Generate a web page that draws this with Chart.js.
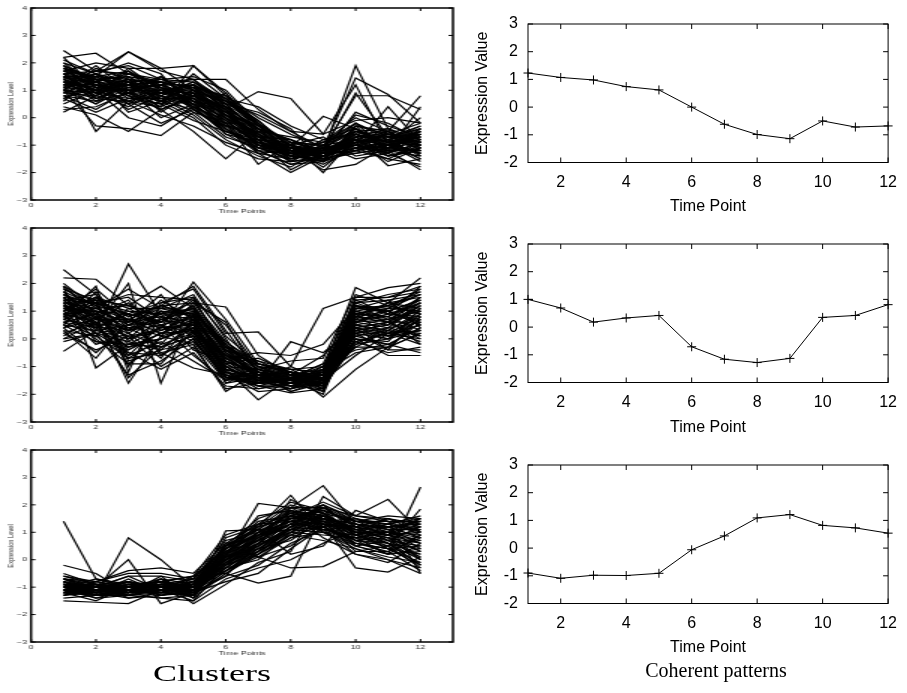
<!DOCTYPE html>
<html>
<head>
<meta charset="utf-8">
<script src="https://cdn.jsdelivr.net/npm/chart.js@4"></script>
<style>
  body { margin: 0; background: #fff; }
  #page { position: relative; width: 907px; height: 693px; overflow: hidden; background: #fff; }
  .stretch { position: absolute; left: 0; transform-origin: 0 0; transform: scaleX(1.5); }
  .pat { position: absolute; left: 450px; }
  .caption { position: absolute; width: 240px; text-align: center; white-space: nowrap;
             font-family: "Liberation Serif", serif; color: #000; transform-origin: 50% 0; }
</style>
</head>
<body>
<div id="page">
  <div class="stretch" style="top:0px"><canvas id="cl1" width="306" height="225"></canvas></div>
  <div class="stretch" style="top:220px"><canvas id="cl2" width="306" height="227"></canvas></div>
  <div class="stretch" style="top:442px"><canvas id="cl3" width="306" height="225"></canvas></div>
  <canvas id="pt1" class="pat" style="top:0px" width="457" height="225"></canvas>
  <canvas id="pt2" class="pat" style="top:220px" width="457" height="226"></canvas>
  <canvas id="pt3" class="pat" style="top:441px" width="457" height="225"></canvas>
  <div class="caption" style="left:92px; top:661px; font-size:24px; line-height:24px; transform:scaleX(1.5)">Clusters</div>
  <div class="caption" style="left:596px; top:660px; font-size:20px; line-height:20px">Coherent patterns</div>
</div>

<script>
var timePoints = [1, 2, 3, 4, 5, 6, 7, 8, 9, 10, 11, 12];
var clusterXTicks = [0, 2, 4, 6, 8, 10, 12];
var patternXTicks = [2, 4, 6, 8, 10, 12];

// top cluster: high early, dropping after t5
var cluster1 = [
  [2.45,1.7,2.4,1.8,1.9,0.9,-0.3,-1.0,-1.3,-0.6,-0.9,-0.5],
  [2.2,2.35,1.6,1.3,1.1,0.5,-0.6,-1.5,-1.2,1.9,-0.4,-1.0],
  [1.8,1.5,2.4,1.7,1.4,1.4,0.3,-0.5,-1.1,1.45,0.85,-0.2],
  [1.2,0.9,1.8,1.8,1.0,0.3,0.95,0.7,-0.6,1.2,-1.0,-1.3],
  [0.2,0.8,0.5,-0.2,0.3,-0.5,-1.0,-1.6,-1.5,-0.8,-1.2,-1.9],
  [1.5,-0.5,0.6,0.1,-0.3,-0.9,-1.3,-2.0,-1.4,-1.1,-1.5,-1.7],
  [0.4,0.1,-0.5,0.3,-0.5,-1.5,-0.5,-1.2,-1.9,-1.7,-1.0,-1.2],
  [1.0,-0.3,-0.4,-0.65,0.2,-0.2,-1.7,-0.9,-2.0,-0.7,-1.75,-1.5],
  [2.0,1.2,1.0,0.4,1.9,0.8,0.0,-0.6,-1.1,0.8,0.8,0.3],
  [1.6,1.7,1.9,1.4,1.5,1.0,-0.2,-1.3,-0.9,0.0,-0.5,0.8],
  [1.3,1.0,1.2,0.9,0.5,0.0,-0.8,-1.1,0.05,-0.4,-1.1,-0.6],
  [0.9,1.4,0.7,1.1,0.8,0.4,-0.4,-0.8,-1.3,-0.9,-0.6,-0.8],
  [1.1,0.5,1.5,0.6,1.2,-0.3,-1.1,-1.4,-1.0,-1.2,-0.8,-1.1],
  [1.7,1.3,0.8,1.5,0.6,0.2,-0.7,-1.2,-1.6,-0.3,-1.3,-0.4],
  [0.7,1.1,0.3,0.8,1.3,0.6,-0.3,-0.9,-1.2,-1.0,0.4,-0.9],
  [1.4,0.6,1.3,0.2,0.9,-0.6,-1.2,-1.7,-1.4,-0.6,-0.9,0.0],
  [2.1,1.6,1.1,1.2,0.4,-0.1,-0.9,-1.0,-0.7,-1.4,-1.2,-1.4],
  [0.6,1.5,1.7,0.7,0.1,-0.8,-1.4,-1.8,-1.1,-0.5,-0.7,-0.3],
  [1.9,0.9,0.4,1.0,0.7,0.5,0.2,-0.4,-1.6,-1.2,-1.5,-1.0],
  [1.0,1.8,1.4,0.5,1.6,0.7,-0.1,-1.1,-1.3,0.2,-0.3,-0.7],
  [1.5,1.2,0.9,1.3,1.1,0.1,-0.6,-1.6,-1.0,-0.8,-1.0,-1.6],
  [0.8,0.3,1.0,0.0,0.5,-0.4,-1.0,-1.3,-1.7,-1.1,-0.5,-1.2],
  [1.2,1.6,2.0,1.6,0.3,0.9,-0.5,-0.7,-0.9,-0.2,-1.2,0.4],
  [1.6,0.7,0.6,0.4,1.0,0.0,-1.3,-1.5,-1.2,-0.9,-0.6,-0.9],
  [0.5,1.0,1.3,1.1,0.6,-0.2,-0.2,-1.0,-1.5,-0.6,-1.4,-1.1],
  [1.8,1.4,0.2,0.6,0.9,0.3,-0.8,-1.9,-1.3,-1.0,-0.8,-0.5],
  [1.3,0.8,1.6,1.4,1.3,0.7,0.4,-0.3,-0.8,-0.4,-0.9,-1.3],
  [1.1,1.9,1.0,0.8,0.2,-0.7,-1.1,-1.2,-1.5,-1.3,-1.1,-0.6],
  [0.9,1.3,0.5,1.2,1.4,0.4,-0.4,-1.4,-1.1,0.1,-0.2,-0.8],
  [2.2,1.1,1.4,0.3,0.8,0.1,-0.7,-0.8,-1.4,-0.7,-0.4,-1.4],
  [0.3,0.4,0.9,0.6,0.0,-1.0,-1.5,-1.6,-1.0,-1.5,-1.3,-1.8],
  [1.4,1.0,0.0,-0.3,0.4,-0.6,-0.9,-1.1,-1.8,-0.9,-1.6,-1.1],
  [1.7,2.0,1.8,1.0,1.2,0.6,0.1,-0.5,-0.6,-0.1,0.0,-0.2],
  [1.0,0.7,1.1,1.5,0.7,-0.1,-1.0,-1.3,-1.2,0.9,-0.7,-1.0],
  [1.5,1.5,0.9,0.9,1.0,0.2,-0.6,-1.0,-1.5,-1.2,-0.9,-0.7],
  [0.7,0.2,0.7,0.5,-0.1,-0.5,-0.8,-1.5,-1.3,-0.8,-1.0,-1.5],
  [1.9,1.4,1.5,1.3,0.5,-0.4,-1.2,-1.7,-1.6,-1.0,-1.4,-1.2],
  [1.2,1.2,1.2,0.7,1.1,0.8,-0.3,-0.9,-1.0,-0.5,-0.8,-0.4],
  [1.6,0.9,1.7,1.1,0.3,-0.3,-0.5,-1.2,-1.4,-1.1,-1.1,-0.9],
  [1.0,1.6,0.8,0.3,0.8,0.3,-1.0,-1.4,-0.8,-0.6,-0.5,-1.1],
  [1.3,1.1,1.0,1.0,0.9,0.2,-0.7,-1.2,-1.3,-0.9,-0.8,-0.9],
  [0.9,0.8,1.3,0.6,0.6,0.0,-0.9,-1.3,-1.4,-0.7,-1.1,-0.6],
  [1.7,1.5,1.4,1.2,0.8,0.4,-0.4,-1.0,-1.2,-1.0,-0.6,-1.2],
  [1.4,1.0,0.6,1.0,1.2,0.5,-0.6,-1.1,-1.5,-0.5,-0.9,-0.8],
  [1.1,1.3,1.1,0.8,0.4,-0.2,-0.9,-1.4,-1.1,-1.1,-1.2,-1.0],
  [2.0,1.6,1.3,1.4,1.0,0.6,-0.2,-0.9,-1.0,-0.2,-0.7,-0.4],
  [0.8,0.6,0.9,0.3,0.7,-0.4,-1.1,-1.5,-1.3,-1.2,-1.0,-1.3],
  [1.5,1.3,1.6,1.2,1.2,0.3,-0.5,-1.2,-1.2,-0.6,-1.0,-0.7],
  [1.2,1.5,1.0,0.9,0.7,0.1,-0.8,-1.0,-1.4,-0.8,-0.5,-1.1],
  [1.8,1.1,1.2,1.3,0.9,0.7,-0.3,-1.3,-1.1,-0.4,-1.2,-0.5],
  [1.0,0.9,0.7,0.7,0.8,-0.1,-1.0,-1.1,-1.5,-0.9,-0.8,-1.4],
  [1.6,1.4,1.5,0.9,1.3,0.5,-0.6,-1.4,-1.0,-0.3,-0.6,-0.2],
  [1.3,0.7,1.2,1.1,0.5,-0.3,-0.7,-1.3,-1.3,-1.0,-1.3,-0.9],
  [0.7,1.2,0.8,0.5,1.0,0.2,-0.4,-0.8,-1.2,-0.6,-0.9,-1.0],
  [1.9,1.3,1.7,1.0,0.6,0.4,-0.9,-1.2,-1.4,-0.7,-0.7,-0.6],
  [1.1,1.0,1.4,1.3,1.1,0.0,-0.6,-1.5,-1.2,-1.3,-1.1,-1.2],
  [1.4,1.6,0.9,0.6,0.9,0.6,-0.1,-1.1,-0.9,-0.5,-0.4,-0.8],
  [1.5,0.9,1.1,1.2,0.6,-0.2,-1.2,-1.3,-1.6,-0.8,-1.4,-1.1],
  [1.2,1.4,1.3,0.8,1.2,0.3,-0.8,-0.9,-1.2,-0.2,-0.8,-0.3],
  [0.9,1.1,0.6,1.0,0.4,-0.5,-0.9,-1.6,-1.4,-1.1,-0.9,-1.5],
  [1.7,1.2,1.0,1.4,1.0,0.5,-0.5,-1.1,-1.3,-0.6,-1.1,-0.7],
  [1.3,1.7,1.6,1.1,0.8,0.1,-0.3,-1.2,-1.1,-0.9,-0.7,-1.0],
  [1.0,0.5,1.1,0.9,1.1,0.4,-0.7,-1.4,-1.5,-0.4,-1.0,-0.5],
  [1.6,1.2,0.8,0.7,0.7,-0.1,-1.0,-1.0,-1.3,-1.0,-1.2,-1.2],
  [1.1,1.4,1.2,1.3,1.4,0.6,-0.4,-1.3,-1.2,-0.7,-0.6,-0.9],
  [1.4,0.8,1.4,0.8,0.5,0.2,-0.8,-1.5,-1.0,-1.2,-1.0,-0.8],
  [1.8,1.3,1.2,1.0,0.9,0.0,-0.6,-1.2,-1.4,-0.5,-0.9,-1.3],
  [0.8,1.0,1.0,1.2,0.8,0.3,-1.1,-1.1,-1.2,-0.8,-1.3,-0.6],
  [1.2,1.2,0.5,0.9,1.2,0.7,-0.2,-1.4,-1.6,-0.3,-0.5,-1.0],
  [1.5,1.0,1.3,0.6,0.3,-0.4,-1.3,-1.2,-1.1,-1.0,-1.1,-0.4]
];

// middle cluster: dip around t6-t9, recovery at t10
var cluster2 = [
  [2.5,1.6,0.5,1.2,0.8,-0.6,-1.2,-1.5,-1.3,0.9,1.1,1.6],
  [-0.45,0.3,2.7,0.9,1.3,1.15,-0.6,-1.3,-1.7,0.5,0.2,0.8],
  [2.2,2.15,1.2,1.9,1.1,-0.3,-1.5,-1.8,-1.1,1.85,1.3,2.2],
  [1.9,-1.05,-0.2,0.4,2.05,0.7,-0.9,-1.2,-2.1,-1.1,-0.3,0.2],
  [0.1,0.8,-1.6,0.1,-0.2,-1.9,-1.2,-1.6,-1.5,0.0,-0.6,-0.6],
  [1.2,0.5,2.0,-1.6,0.9,-1.1,-2.2,-1.4,-1.2,1.2,0.9,1.3],
  [0.8,1.9,-1.2,1.3,1.8,0.2,0.25,-1.0,1.1,1.5,1.85,2.0],
  [1.6,1.0,0.9,-0.5,-1.05,-1.3,-1.6,-0.1,-0.5,0.4,-0.4,-0.4],
  [1.4,1.3,1.5,0.7,0.5,-0.8,-1.3,-1.7,-1.6,1.0,0.6,1.5],
  [0.5,1.7,0.3,1.0,0.0,-1.4,-1.7,-1.95,-1.8,0.6,1.0,0.5],
  [1.0,0.0,-0.9,-0.9,0.3,-1.6,-1.4,-1.6,-1.0,-0.3,0.3,1.0],
  [0.3,-0.7,0.7,0.2,0.6,-0.6,-0.8,-1.3,-1.9,0.8,0.7,-0.2],
  [1.8,1.2,1.6,1.5,1.4,0.5,-1.0,-1.5,-1.4,1.3,1.6,1.8],
  [0.6,0.9,-0.5,-1.1,-0.5,-1.7,-1.8,-1.6,-1.3,0.2,0.0,0.3],
  [1.5,0.4,1.0,0.6,1.2,-0.2,-1.1,-0.8,-0.7,1.6,1.2,0.9],
  [0.0,0.6,-1.4,-0.3,0.4,-1.2,-1.5,-1.8,-1.2,-0.5,-0.3,0.6],
  [1.1,1.5,0.6,1.6,0.2,-0.9,-0.7,-1.2,-1.6,0.3,0.5,1.2],
  [0.9,-0.2,0.2,-0.7,0.7,-0.5,-1.3,-1.9,-1.5,0.1,-0.2,-0.5],
  [2.0,1.1,1.8,1.1,1.6,0.0,-1.6,-1.4,-0.9,1.4,1.5,1.7],
  [0.4,1.0,-0.6,0.5,-0.6,-1.5,-1.0,-1.1,-1.7,-0.2,0.4,0.1],
  [1.3,0.2,0.4,-0.2,1.0,-0.4,-1.4,-1.5,-2.0,0.7,0.8,1.4],
  [0.7,1.3,-1.0,0.8,0.1,-1.0,-1.7,-1.7,-1.4,0.9,0.1,0.7],
  [1.7,0.7,1.3,0.3,0.8,-0.7,-0.5,-0.6,-0.2,1.1,1.4,0.4],
  [0.2,-0.4,0.1,-1.0,-0.3,-1.8,-1.6,-1.5,-1.1,-0.1,-0.5,-0.3],
  [1.0,1.8,0.8,1.2,1.9,0.3,-1.2,-1.4,-1.8,1.3,0.9,1.9],
  [1.5,0.6,-0.3,0.0,0.5,-1.1,-1.4,-1.2,-1.3,0.4,0.6,0.0],
  [0.6,0.1,1.1,0.5,-0.1,-1.3,-1.9,-1.8,-1.6,0.0,-0.1,1.1],
  [1.2,0.8,0.0,1.0,0.9,-0.1,-0.9,-1.3,-0.6,0.6,1.1,1.0],
  [0.9,1.4,-0.8,-0.4,0.6,-1.6,-1.1,-1.6,-1.9,0.5,0.3,-0.1],
  [1.9,0.9,1.4,0.1,1.3,0.6,-1.3,-1.6,-1.2,1.2,0.7,1.3],
  [0.4,-0.5,0.5,0.9,-0.4,-0.8,-1.5,-1.0,-1.5,-0.6,0.2,0.5],
  [1.4,1.6,-0.1,0.7,1.1,-1.4,-1.2,-1.7,-1.4,0.8,1.3,1.5],
  [0.7,0.4,0.9,-0.6,0.2,-0.6,-1.6,-1.4,-1.7,0.2,-0.4,0.8],
  [1.6,1.2,0.3,1.4,0.7,-0.3,-0.8,-1.1,-1.0,1.0,0.8,0.3],
  [-0.1,0.2,-1.3,-0.8,0.0,-1.4,-1.3,-1.9,-1.6,0.3,0.0,0.9],
  [1.1,0.7,0.7,0.4,0.4,-1.0,-1.1,-1.5,-1.4,0.7,0.5,1.1],
  [0.8,1.1,1.2,0.6,1.5,-0.5,-1.4,-1.2,-1.8,1.1,1.0,0.6],
  [1.3,-0.1,-0.4,0.2,0.3,-1.2,-1.8,-1.6,-1.2,0.4,0.2,-0.2],
  [0.5,1.5,0.6,1.1,0.8,-0.2,-1.0,-1.3,-1.5,0.9,1.2,1.7],
  [1.7,0.5,-0.6,-0.1,-0.8,-1.5,-1.2,-1.4,-0.9,-0.4,-0.2,0.4],
  [1.2,0.9,0.4,0.6,0.7,-0.8,-1.3,-1.4,-1.5,0.6,0.7,1.0],
  [0.6,0.4,-0.3,0.2,0.3,-1.1,-1.5,-1.6,-1.3,0.2,0.4,0.6],
  [1.5,1.3,1.0,0.9,1.1,-0.3,-1.1,-1.3,-1.2,1.1,1.0,1.4],
  [0.9,0.6,0.2,-0.3,0.1,-1.3,-1.6,-1.5,-1.6,0.4,0.1,0.3],
  [1.8,1.4,0.8,1.2,1.3,-0.1,-1.0,-1.2,-1.4,1.3,1.4,1.6],
  [0.3,0.1,-0.7,-0.5,-0.2,-1.5,-1.4,-1.7,-1.5,-0.1,0.2,0.0],
  [1.1,1.0,0.6,0.8,0.6,-0.6,-1.2,-1.5,-1.1,0.8,0.6,1.2],
  [1.4,0.5,0.1,0.3,0.9,-0.9,-1.5,-1.3,-1.7,0.6,0.9,0.7],
  [0.7,1.2,0.9,0.5,0.2,-0.7,-1.3,-1.6,-1.4,0.3,0.5,1.3],
  [1.6,0.8,-0.2,0.0,0.5,-1.2,-1.7,-1.4,-1.2,1.0,1.2,0.9],
  [0.4,0.7,0.3,0.7,0.8,-0.4,-0.9,-1.2,-1.5,0.5,0.3,0.2],
  [1.0,1.5,1.1,1.1,1.0,-0.2,-1.4,-1.5,-1.3,1.2,1.1,1.8],
  [0.8,0.2,-0.5,-0.6,0.0,-1.4,-1.6,-1.7,-1.8,0.0,-0.2,0.4],
  [1.3,1.1,0.7,0.4,1.2,-0.5,-1.1,-1.4,-1.0,0.9,0.8,1.5],
  [0.5,0.3,0.5,0.1,0.4,-1.0,-1.5,-1.5,-1.6,0.4,0.6,0.1],
  [1.7,1.2,0.2,0.9,0.9,-0.8,-1.2,-1.3,-1.4,0.7,1.3,1.1],
  [0.2,0.6,-0.9,-0.2,0.2,-1.3,-1.7,-1.8,-1.5,-0.2,0.0,0.7],
  [1.1,0.4,0.9,0.6,1.4,-0.3,-1.0,-1.4,-1.3,1.4,0.9,0.8],
  [0.9,1.0,0.0,0.3,0.6,-1.1,-1.4,-1.6,-1.7,0.6,0.4,1.2],
  [1.5,0.7,0.6,1.0,0.3,-0.6,-1.3,-1.2,-1.5,0.8,1.0,0.5],
  [0.6,0.9,-0.4,0.2,0.7,-1.2,-1.6,-1.5,-1.2,0.1,0.3,0.9],
  [1.3,1.4,1.2,0.8,1.1,-0.4,-1.2,-1.4,-1.6,1.1,1.2,1.6],
  [0.0,0.2,-0.1,-0.4,-0.1,-1.4,-1.5,-1.6,-1.4,-0.3,-0.3,0.2],
  [1.2,0.8,0.3,0.5,0.8,-0.7,-1.4,-1.7,-1.3,0.5,0.7,1.0],
  [1.9,1.3,0.9,1.3,1.5,0.1,-0.9,-1.1,-1.2,1.5,1.5,1.9],
  [0.7,0.5,-0.7,0.0,0.4,-1.0,-1.6,-1.4,-1.8,0.3,0.1,0.5],
  [1.0,1.1,0.5,0.7,1.0,-0.5,-1.3,-1.5,-1.4,0.9,0.8,1.3],
  [1.4,0.3,0.0,0.4,0.5,-0.9,-1.5,-1.8,-1.5,0.2,0.6,0.6],
  [0.8,1.3,0.7,1.2,0.9,-0.2,-1.1,-1.3,-1.1,1.2,1.0,1.4],
  [0.5,-0.1,-0.2,-0.3,0.1,-1.2,-1.4,-1.5,-1.7,-0.1,0.2,0.3]
];

// bottom cluster: low early, rising from t5 to a peak at t8-t9
var cluster3 = [
  [1.4,-0.7,-1.0,-0.9,-1.1,-0.2,0.8,1.5,1.9,1.2,0.9,0.6],
  [-0.9,-1.3,0.8,0.0,-1.0,0.5,1.2,2.35,1.0,0.6,0.4,-0.2],
  [-1.0,-1.0,0.0,-1.6,-1.2,0.1,2.05,1.9,2.7,1.3,1.2,0.8],
  [-0.2,-0.5,-1.2,-0.8,-1.6,-0.9,-0.1,0.3,2.3,1.6,2.2,1.0],
  [-1.5,-1.55,-1.6,-1.1,-0.6,-0.5,-0.85,-0.6,1.7,0.5,0.2,2.65],
  [-1.2,-0.8,-0.4,-0.3,-0.5,0.6,0.1,-0.3,-0.25,0.3,0.5,1.85],
  [-0.8,-1.1,-1.0,-0.7,-1.3,1.05,1.1,0.2,0.5,1.8,1.4,-0.5],
  [-1.0,-1.2,-0.9,-1.0,-0.9,0.3,0.9,1.7,1.3,-0.3,-0.45,0.1],
  [-0.6,-0.9,-1.3,-1.2,-1.1,0.0,0.5,1.2,1.6,1.0,0.8,0.3],
  [-1.1,-1.4,-1.1,-0.9,-0.8,-0.4,0.2,0.9,1.4,1.5,1.2,1.4],
  [-0.9,-1.0,-0.6,-0.6,-1.4,0.2,1.3,2.1,1.8,0.9,0.5,-0.3],
  [-1.3,-1.2,-1.4,-1.3,-1.2,-0.6,-0.2,0.6,1.1,0.2,0.0,-0.5],
  [-0.7,-0.8,-0.5,-0.5,-0.7,0.7,1.0,1.4,2.0,1.4,1.6,1.5],
  [-1.0,-1.1,-1.2,-1.1,-1.0,-0.2,0.6,1.8,1.2,0.7,0.2,0.9],
  [-1.2,-0.9,-0.8,-1.4,-1.5,-0.7,-0.3,0.0,0.6,1.1,1.3,1.6],
  [-0.8,-1.3,-1.0,-0.8,-0.6,0.4,1.4,1.6,1.0,0.4,0.1,-0.1],
  [-1.1,-1.0,-1.3,-1.0,-1.3,0.1,0.4,0.7,1.5,1.2,0.7,1.2],
  [-0.9,-1.2,-0.7,-1.2,-0.9,0.8,1.2,2.0,1.7,1.0,0.6,0.4],
  [-1.4,-1.3,-1.1,-0.9,-1.2,-0.3,0.0,1.0,0.9,0.8,1.0,0.0],
  [-0.7,-1.0,-1.2,-0.6,-0.8,0.3,0.7,1.3,1.8,1.3,0.9,0.7],
  [-1.0,-0.7,-0.9,-1.3,-1.1,-0.1,0.9,1.1,1.4,0.3,0.3,-0.4],
  [-1.2,-1.5,-1.0,-1.0,-1.4,-0.5,0.3,1.6,2.1,1.6,1.5,1.3],
  [-0.5,-0.9,-1.1,-0.9,-0.7,0.5,1.5,1.9,1.3,0.6,0.4,0.2],
  [-1.1,-1.1,-0.8,-1.1,-1.0,0.2,0.2,0.8,1.0,0.9,1.1,1.1],
  [-0.9,-1.3,-1.2,-0.7,-1.2,-0.8,-0.5,0.4,1.2,0.5,0.7,0.5],
  [-1.3,-0.9,-1.4,-1.2,-0.9,0.6,0.8,1.5,1.6,1.1,0.8,0.0],
  [-0.8,-1.2,-0.9,-1.0,-1.1,0.0,1.0,1.7,0.8,0.2,-0.1,0.6],
  [-1.0,-1.4,-1.3,-1.4,-1.3,-0.4,0.4,1.2,1.9,1.4,1.2,0.8],
  [-0.6,-0.8,-1.0,-0.8,-0.6,0.9,1.3,1.4,1.1,1.2,1.5,1.2],
  [-1.2,-1.0,-0.6,-1.1,-1.5,-0.2,0.5,2.2,1.5,0.7,0.6,-0.2],
  [-1.0,-1.3,-1.1,-1.2,-0.8,0.1,0.1,0.5,1.3,0.9,0.4,0.9],
  [-0.9,-1.1,-1.2,-0.9,-1.0,0.4,1.1,1.2,2.0,1.0,1.0,1.5],
  [-1.1,-0.8,-1.0,-1.0,-1.2,-0.6,0.6,1.0,1.6,0.8,0.2,0.3],
  [-0.7,-1.2,-1.3,-0.7,-0.9,0.2,1.6,1.8,1.2,1.5,1.3,1.0],
  [-1.3,-1.1,-0.8,-1.3,-1.1,-0.1,0.3,0.9,0.7,0.4,0.0,-0.3],
  [-0.9,-1.0,-1.2,-1.0,-0.7,0.5,0.9,1.3,1.9,1.6,1.4,1.4],
  [-1.0,-1.1,-1.0,-1.0,-1.1,0.0,0.7,1.4,1.5,1.0,0.8,0.6],
  [-0.8,-1.0,-1.1,-0.9,-0.9,0.3,1.0,1.6,1.3,1.2,1.0,0.9],
  [-1.1,-1.2,-0.9,-1.1,-1.2,-0.3,0.4,1.1,1.7,0.9,0.6,0.2],
  [-0.9,-0.9,-1.2,-0.8,-1.0,0.2,0.8,1.8,1.6,1.1,1.2,1.3],
  [-1.2,-1.1,-1.0,-1.2,-1.3,-0.5,0.2,0.9,1.2,0.6,0.4,-0.1],
  [-0.7,-1.0,-0.8,-1.0,-0.8,0.5,1.2,1.5,1.8,1.4,1.3,1.1],
  [-1.0,-1.3,-1.2,-0.9,-1.1,-0.1,0.6,1.3,1.4,0.7,0.5,0.7],
  [-1.1,-1.0,-1.1,-1.1,-0.9,0.1,0.9,1.7,1.5,1.3,1.1,0.4],
  [-0.8,-1.2,-1.0,-1.0,-1.2,-0.2,0.3,1.0,1.6,1.0,0.9,1.0],
  [-1.2,-1.1,-1.3,-1.1,-1.0,0.4,1.1,1.9,1.9,1.2,0.7,0.5],
  [-0.9,-1.1,-0.9,-0.8,-1.1,0.1,0.5,1.2,1.1,0.8,1.0,1.2],
  [-1.0,-1.2,-1.1,-1.2,-1.3,-0.4,0.1,0.8,1.3,1.1,0.6,0.0],
  [-0.7,-0.9,-1.0,-0.9,-1.0,0.6,1.3,1.6,1.4,0.9,1.2,1.4],
  [-1.1,-1.3,-1.2,-1.0,-0.9,0.0,0.8,1.5,1.8,1.3,0.9,0.3],
  [-0.9,-1.0,-0.8,-1.1,-1.2,-0.3,0.5,1.1,1.5,1.0,1.3,1.5],
  [-1.2,-1.2,-1.1,-0.9,-1.1,0.2,0.7,1.3,1.2,0.6,0.3,0.8],
  [-0.8,-1.1,-1.2,-1.2,-1.0,0.3,1.0,1.7,2.0,1.5,1.1,0.6],
  [-1.0,-0.9,-1.0,-1.0,-1.3,-0.1,0.4,1.0,1.3,0.7,0.8,1.1],
  [-1.1,-1.2,-0.9,-0.8,-1.0,0.4,0.9,1.4,1.7,1.4,1.4,0.9],
  [-0.9,-1.0,-1.1,-1.1,-1.1,0.1,0.6,1.6,1.1,0.8,0.6,-0.2],
  [-1.2,-1.3,-1.0,-1.2,-0.9,-0.2,0.2,1.2,1.6,1.1,0.9,1.3],
  [-1.0,-1.1,-1.2,-0.9,-1.2,0.5,1.1,1.8,1.4,1.0,1.0,0.7],
  [-0.8,-1.2,-1.1,-1.0,-1.1,0.0,0.8,1.3,1.9,1.2,1.5,1.0],
  [-1.1,-0.9,-1.0,-1.3,-1.0,-0.4,0.3,1.1,1.0,0.5,0.2,0.4],
  [-1.0,-1.0,-0.9,-1.0,-1.2,0.2,1.2,1.5,1.5,1.3,1.1,1.4],
  [-0.9,-1.3,-1.3,-1.1,-0.8,0.1,0.7,1.9,1.7,0.9,0.7,0.1],
  [-1.2,-1.0,-1.0,-0.9,-1.1,-0.1,0.5,1.2,1.4,1.2,1.2,1.2],
  [-0.7,-1.1,-1.1,-1.2,-1.3,0.3,0.9,1.4,1.3,1.0,0.4,0.5],
  [-1.1,-1.2,-0.8,-1.0,-1.0,0.0,0.6,1.6,1.8,1.4,1.0,0.8],
  [-1.0,-0.9,-1.2,-1.1,-1.1,0.2,1.0,1.1,1.2,0.7,0.9,1.5]
];

// coherent patterns (right column)
var pattern1 = [1.23, 1.07, 0.98, 0.74, 0.62, 0.0, -0.62, -0.99, -1.14, -0.5, -0.72, -0.68];
var pattern2 = [1.0, 0.69, 0.18, 0.33, 0.42, -0.71, -1.16, -1.28, -1.13, 0.35, 0.42, 0.81];
var pattern3 = [-0.9, -1.09, -0.98, -0.99, -0.91, -0.06, 0.44, 1.09, 1.21, 0.82, 0.73, 0.54];

// box round the plot area with inward tick marks on all four sides
const frame = {
  id: 'frame',
  afterDraw(chart, args, opts) {
    const ctx = chart.ctx, a = chart.chartArea, x = chart.scales.x, y = chart.scales.y;
    const L = opts.tick;
    ctx.save();
    ctx.strokeStyle = '#000';
    ctx.lineWidth = 1;
    ctx.beginPath();
    x.ticks.forEach(t => {
      const px = x.getPixelForValue(t.value);
      ctx.moveTo(px, a.bottom); ctx.lineTo(px, a.bottom - L);
      ctx.moveTo(px, a.top); ctx.lineTo(px, a.top + L);
    });
    y.ticks.forEach(t => {
      const py = y.getPixelForValue(t.value);
      ctx.moveTo(a.left, py); ctx.lineTo(a.left + L, py);
      ctx.moveTo(a.right, py); ctx.lineTo(a.right - L, py);
    });
    ctx.stroke();
    ctx.lineWidth = opts.width;
    ctx.strokeRect(a.left, a.top, a.right - a.left, a.bottom - a.top);
    ctx.restore();
  }
};

function drawCluster(id, rows) {
  var small = { size: 6, family: 'Liberation Sans' };
  new Chart(document.getElementById(id), {
    type: 'line',
    data: {
      datasets: rows.map(r => ({
        data: r.map((v, i) => ({ x: timePoints[i], y: v })),
        borderColor: '#000', borderWidth: 1.2, pointRadius: 0, fill: false
      }))
    },
    options: {
      responsive: false, animation: false, events: [],
      layout: { padding: { top: 8, right: 4, left: 0, bottom: 0 } },
      plugins: { legend: { display: false }, tooltip: { enabled: false }, frame: { width: 1.5, tick: 3 } },
      scales: {
        x: {
          type: 'linear', min: 0, max: 13,
          afterBuildTicks: s => { s.ticks = clusterXTicks.map(v => ({ value: v })); },
          afterFit: s => { s.height = 25; },
          grid: { display: false, drawTicks: false }, border: { display: false },
          ticks: { font: small, color: '#333', padding: 2, maxRotation: 0, autoSkip: false },
          title: { display: true, text: 'Time Points', font: small, color: '#333', padding: { top: 0, bottom: 9.9 } }
        },
        y: {
          min: -3, max: 4,
          afterFit: s => { s.width = 20.7; },
          grid: { display: false, drawTicks: false }, border: { display: false },
          ticks: { stepSize: 1, font: small, color: '#333', padding: 2.7,
                   callback: v => String(v).replace('-', '\u2212') },
          title: { display: true, text: 'Expression Level', font: { size: 5.7, family: 'Liberation Sans' }, color: '#333', padding: { top: 4.1, bottom: 0 } }
        }
      }
    },
    plugins: [frame]
  });
}

function drawPattern(id, values) {
  var big = { size: 16, family: 'Liberation Sans' };
  new Chart(document.getElementById(id), {
    type: 'line',
    data: {
      datasets: [{
        data: values.map((v, i) => ({ x: timePoints[i], y: v })),
        borderColor: '#000', borderWidth: 1, fill: false, clip: 6,
        pointStyle: 'cross', pointRadius: 4.5, pointBorderColor: '#000', pointBorderWidth: 1
      }]
    },
    options: {
      responsive: false, animation: false, events: [],
      layout: { padding: { top: 24, right: 15, left: 0, bottom: 0 } },
      plugins: { legend: { display: false }, tooltip: { enabled: false }, frame: { width: 1, tick: 5 } },
      scales: {
        x: {
          type: 'linear', min: 1, max: 12,
          afterBuildTicks: s => { s.ticks = patternXTicks.map(v => ({ value: v })); },
          afterFit: s => { s.height = s.chart.height - 24 - 138.5; },
          grid: { display: false, drawTicks: false }, border: { display: false },
          ticks: { font: big, color: '#000', padding: 10, maxRotation: 0, autoSkip: false },
          title: { display: true, text: 'Time Point', font: big, color: '#000', padding: { top: 0, bottom: 8.4 } }
        },
        y: {
          min: -2, max: 3,
          afterFit: s => { s.width = 78; },
          grid: { display: false, drawTicks: false }, border: { display: false },
          ticks: { stepSize: 1, font: big, color: '#000', padding: 10 },
          title: { display: true, text: 'Expression Value', font: big, color: '#000', padding: { top: 23.4, bottom: 0 } }
        }
      }
    },
    plugins: [frame]
  });
}

drawCluster('cl1', cluster1);
drawCluster('cl2', cluster2);
drawCluster('cl3', cluster3);
drawPattern('pt1', pattern1);
drawPattern('pt2', pattern2);
drawPattern('pt3', pattern3);
</script>
</body>
</html>
